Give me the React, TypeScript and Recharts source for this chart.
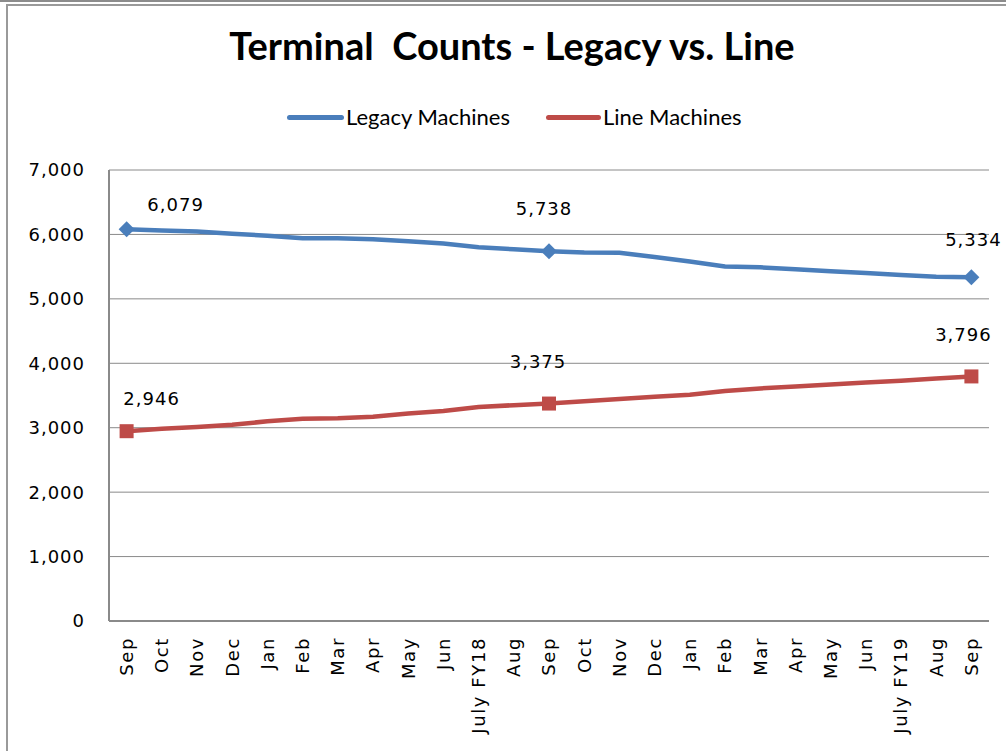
import React from "react";
import { LineChart, Line, XAxis, YAxis, CartesianGrid } from "recharts";

const months = [
  "Sep", "Oct", "Nov", "Dec", "Jan", "Feb", "Mar", "Apr", "May", "Jun", "July FY18", "Aug",
  "Sep", "Oct", "Nov", "Dec", "Jan", "Feb", "Mar", "Apr", "May", "Jun", "July FY19", "Aug", "Sep",
];
const legacyMachines = [
  6079, 6060, 6045, 6010, 5980, 5942, 5940, 5927, 5895, 5860, 5800, 5770,
  5738, 5720, 5715, 5650, 5580, 5502, 5490, 5460, 5430, 5400, 5370, 5345, 5334,
];
const lineMachines = [
  2946, 2985, 3010, 3045, 3100, 3140, 3145, 3170, 3220, 3260, 3320, 3350,
  3375, 3410, 3445, 3480, 3510, 3570, 3610, 3640, 3670, 3700, 3730, 3765, 3796,
];
const yTicks = [0, 1000, 2000, 3000, 4000, 5000, 6000, 7000];
const labeledIdx = [0, 12, 24];

const data = months.map((m, i) => ({ idx: i, month: m, legacy: legacyMachines[i], line: lineMachines[i] }));

const BLUE = "#4A7EBB";
const RED = "#BE4B48";
const TICK_FONT = "'DejaVu Sans', Verdana, sans-serif";

// label offsets (style): text centre relative to point
const legacyLabelOffset: Record<number, [number, number]> = { 0: [49, -25], 12: [-5, -43], 24: [2, -38] };
const lineLabelOffset: Record<number, [number, number]> = { 0: [25, -33], 12: [-11, -42], 24: [-8, -42] };

const fmt = (v: number) => v.toLocaleString("en-US");

const XTick = (props: any) => {
  const { x, y, payload } = props;
  return (
    <g transform={`translate(${x},${y})`}>
      <text
        transform="rotate(-90)"
        x={0}
        y={0}
        dy="0.36em"
        textAnchor="end"
        fill="#000"
        fontFamily={TICK_FONT}
        fontSize={18}
        letterSpacing={1.6}
      >
        {months[payload.value]}
      </text>
    </g>
  );
};

const makeDot = (kind: "diamond" | "square", color: string) => (props: any) => {
  const { cx, cy, index } = props;
  if (!labeledIdx.includes(index)) return <g key={`d${index}`} />;
  if (kind === "diamond") {
    const r = 8;
    return (
      <path
        key={`d${index}`}
        d={`M${cx},${cy - r} L${cx + r},${cy} L${cx},${cy + r} L${cx - r},${cy} Z`}
        fill={color}
      />
    );
  }
  const s = 7;
  return <rect key={`d${index}`} x={cx - s} y={cy - s} width={2 * s} height={2 * s} fill={color} />;
};

const makeLabel = (offsets: Record<number, [number, number]>) => (props: any) => {
  const { x, y, index, value } = props;
  if (!labeledIdx.includes(index)) return null;
  const [dx, dy] = offsets[index];
  return (
    <text
      key={`l${index}`}
      x={x + dx}
      y={y + dy}
      dy="0.36em"
      textAnchor="middle"
      fill="#000"
      fontFamily={TICK_FONT}
      fontSize={18}
      letterSpacing={1}
    >
      {fmt(value)}
    </text>
  );
};

export default function App() {
  return (
    <div style={{ position: "absolute", left: 0, top: 0, width: 1006, height: 751, background: "#fff", overflow: "hidden" }}>
      <div
        style={{
          position: "absolute",
          left: 0,
          top: 22,
          width: 1024,
          textAlign: "center",
          fontFamily: "Lato, 'Open Sans', sans-serif",
          fontWeight: 700,
          fontSize: 38,
          lineHeight: "46px",
          color: "#000",
          whiteSpace: "pre",
        }}
      >
        {"Terminal  Counts - Legacy vs. Line"}
      </div>
      <div
        style={{
          position: "absolute",
          left: 287,
          top: 102,
          display: "flex",
          alignItems: "center",
          fontFamily: "Lato, 'Open Sans', sans-serif",
          fontSize: 22,
          lineHeight: "30px",
          color: "#000",
          whiteSpace: "pre",
        }}
      >
        <span style={{ display: "inline-block", width: 57, height: 5, background: BLUE, borderRadius: 3 }} />
        <span style={{ marginLeft: 2 }}>Legacy Machines</span>
        <span style={{ display: "inline-block", width: 55, height: 5, background: RED, borderRadius: 3, marginLeft: 36 }} />
        <span style={{ marginLeft: 2 }}>Line Machines</span>
      </div>
      <div style={{ position: "absolute", left: 0, top: 0 }}>
        <LineChart width={1006} height={751} data={data} margin={{ top: 170, right: 17, bottom: 0, left: 20 }}>
          <CartesianGrid horizontal vertical={false} stroke="#8a8a8a" strokeWidth={1} />
          <XAxis
            dataKey="idx"
            type="category"
            interval={0}
            padding={{ left: 17.6, right: 17.6 }}
            tick={<XTick />}
            tickLine={false}
            axisLine={{ stroke: "#8a8a8a", strokeWidth: 2 }}
            tickSize={0}
            tickMargin={16}
            height={130}
          />
          <YAxis
            type="number"
            domain={[0, 7000]}
            ticks={yTicks}
            interval={0}
            width={89}
            tickFormatter={fmt}
            tickLine={false}
            tickSize={0}
            tickMargin={24}
            axisLine={{ stroke: "#8a8a8a", strokeWidth: 2 }}
            tick={{ fill: "#000", fontFamily: TICK_FONT, fontSize: 18, letterSpacing: 1 }}
          />
          <Line
            type="linear"
            dataKey="legacy"
            name="Legacy Machines"
            stroke={BLUE}
            strokeWidth={4.5}
            dot={makeDot("diamond", BLUE)}
            activeDot={false}
            label={makeLabel(legacyLabelOffset)}
            isAnimationActive={false}
          />
          <Line
            type="linear"
            dataKey="line"
            name="Line Machines"
            stroke={RED}
            strokeWidth={4.5}
            dot={makeDot("square", RED)}
            activeDot={false}
            label={makeLabel(lineLabelOffset)}
            isAnimationActive={false}
          />
        </LineChart>
      </div>
      <div style={{ position: "absolute", left: 0, top: 0, width: 1006, height: 2, background: "#8c8c8c", zIndex: 5 }} />
      <div style={{ position: "absolute", left: 6, top: 4, width: 1000, height: 2, background: "#9a9a9a", zIndex: 5 }} />
      <div style={{ position: "absolute", left: 6, top: 4, width: 2, height: 747, background: "#9a9a9a", zIndex: 5 }} />
    </div>
  );
}
